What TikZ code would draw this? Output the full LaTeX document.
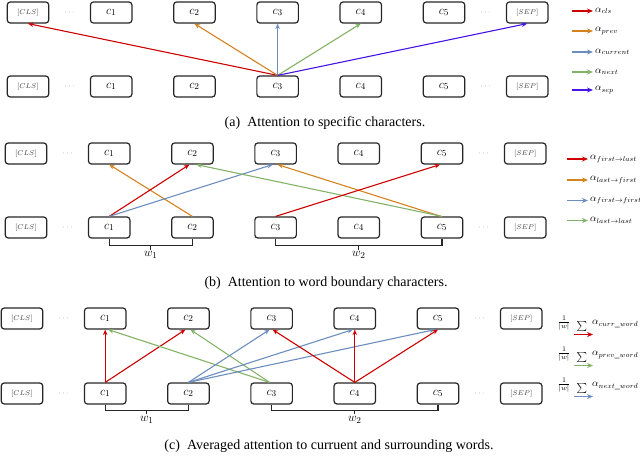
\documentclass[tikz,border=0pt]{standalone}
\usepackage{fontspec}
\setmainfont{Liberation Serif}
\usetikzlibrary{arrows.meta,calc}
\definecolor{cred}{RGB}{204,0,0}
\definecolor{corange}{RGB}{212,130,30}
\definecolor{cblue}{RGB}{108,142,191}
\definecolor{cgreen}{RGB}{130,179,102}
\definecolor{cviolet}{RGB}{70,20,230}
\tikzset{
 tok/.style={draw=black!85, line width=1.2pt, rounded corners=3pt, minimum width=41.5pt, minimum height=21pt, inner sep=0pt, font=\fontsize{13}{13}\selectfont},
 spec/.style={tok, font=\fontsize{7}{7}\selectfont, text=black!75},
 dotsn/.style={font=\fontsize{8}{8}\selectfont, text=black!50, inner sep=0pt},
 att/.style={line width=1.1pt, -{Stealth[length=5.5pt,width=4.5pt]}},
 legarr/.style={line width=1.4pt, -{Stealth[length=6pt,width=5pt]}},
 brk/.style={line width=1.1pt, draw=black!85},
 captxt/.style={font=\fontsize{14}{14}\selectfont, inner sep=0pt},
 leg/.style={font=\fontsize{10}{10}\selectfont, anchor=west, inner sep=0pt},
 wlab/.style={font=\fontsize{12.5}{12.5}\selectfont, inner sep=0pt, anchor=north},
}
\newcommand\mkrow[3]{%
 \node[spec] (#1cls) at (#2,#3) {$[CLS]$};
 \node[dotsn] (#1d1) at ({#2+0.5*83.2},#3) {$\cdots$};
 \foreach \i in {1,...,5} { \node[tok] (#1c\i) at ({#2+\i*83.2},#3) {$c_{\i}$}; }
 \node[dotsn] (#1d2) at ({#2+5.5*83.2},#3) {$\cdots$};
 \node[spec] (#1sep) at ({#2+6*83.2},#3) {$[SEP]$};
}
\begin{document}
\begin{tikzpicture}[x=1pt,y=-1pt]
\useasboundingbox (0,0) rectangle (640,457);
% ---------- panel (a)
\mkrow{at}{28}{12.5}
\mkrow{ab}{28}{86.5}
\draw[att,cred] (abc3.north) -- (atcls.south);
\draw[att,corange] (abc3.north) -- (atc2.south);
\draw[att,cblue] (abc3.north) -- (atc3.south);
\draw[att,cgreen] (abc3.north) -- (atc4.south);
\draw[att,cviolet] (abc3.north) -- (atsep.south);
\foreach \n/\yy/\col/\lab in {1/11/cred/cls, 2/31/corange/prev, 3/52/cblue/current, 4/72/cgreen/next, 5/90/cviolet/sep}{
 \coordinate (las\n) at (572,\yy);
 \coordinate (lae\n) at (593,\yy);
 \draw[legarr,\col] (las\n) -- (lae\n);
 \node[leg] (lat\n) at (595,\yy) {$\alpha_{\lab}$};
}
\node[captxt] (capa) at (325,123) {(a)\enspace Attention to specific characters.};
% ---------- panel (b)
\mkrow{bt}{26}{153.5}
\mkrow{bb}{26}{227.5}
\draw[att,corange] (bbc2.north) -- (btc1.south);
\draw[att,cred] (bbc1.north) -- ([xshift=-3pt]btc2.south);
\draw[att,cblue] (bbc1.north) -- ([xshift=-3pt]btc3.south);
\draw[att,corange] ([xshift=-1pt]bbc5.north) -- ([xshift=2pt]btc3.south);
\draw[att,cgreen] (bbc5.north) -- ([xshift=4pt]btc2.south);
\draw[att,cred] (bbc3.north) -- ([xshift=-2pt]btc5.south);
\foreach \n/\yy/\col/\lab in {1/159/cred/{first\rightarrow last}, 2/180/corange/{last\rightarrow first}, 3/200.5/cblue/{first\rightarrow first}, 4/220.5/cgreen/{last\rightarrow last}}{
 \coordinate (lbs\n) at (567,\yy);
 \coordinate (lbe\n) at (588,\yy);
 \draw[legarr,\col] (lbs\n) -- (lbe\n);
 \node[leg] (lbt\n) at (590,\yy) {$\alpha_{\lab}$};
}
\draw[brk] (bbc1.south) -- ++(0,7) -| (bbc2.south);
\draw[brk] (bbc3.south) -- ++(0,7) -| (bbc5.south);
\coordinate (bm1) at ($(bbc1.south)!0.5!(bbc2.south)+(0,7)$);
\coordinate (bm2) at ($(bbc3.south)!0.5!(bbc5.south)+(0,7)$);
\draw[brk] (bm1) -- ++(0,4);
\draw[brk] (bm2) -- ++(0,4);
\node[wlab] (bw1) at ($(bm1)+(0,6)$) {$w_1$};
\node[wlab] (bw2) at ($(bm2)+(0,6)$) {$w_2$};
\node[captxt] (capb) at (326,283) {(b)\enspace Attention to word boundary characters.};
% ---------- panel (c)
\mkrow{ct}{22}{318.5}
\mkrow{cb}{22}{393.5}
\draw[att,cred] (cbc1.north) -- (ctc1.south);
\draw[att,cred] (cbc1.north) -- ([xshift=-3pt]ctc2.south);
\draw[att,cgreen] ([xshift=-2pt]cbc3.north) -- ([xshift=3pt]ctc1.south);
\draw[att,cgreen] ([xshift=-2pt]cbc3.north) -- ([xshift=2pt]ctc2.south);
\draw[att,cblue] (cbc2.north) -- ([xshift=-2pt]ctc3.south);
\draw[att,cblue] (cbc2.north) -- ([xshift=-2pt]ctc4.south);
\draw[att,cblue] (cbc2.north) -- ([xshift=-3pt]ctc5.south);
\draw[att,cred] (cbc4.north) -- ([xshift=1pt]ctc3.south);
\draw[att,cred] (cbc4.north) -- (ctc4.south);
\draw[att,cred] (cbc4.north) -- (ctc5.south);
\foreach \n/\yy/\col/\lab in {1/326/cred/{curr\_word}, 2/357/cgreen/{prev\_word}, 3/388/cblue/{next\_word}}{
 \node[inner sep=0pt, font=\fontsize{10.5}{10.5}\selectfont] (lcf\n) at (564,\yy-3) {$\frac{1}{|w|}$};
 \node[inner sep=0pt, font=\fontsize{14}{14}\selectfont] (lcs\n) at (582,\yy) {$\sum$};
 \node[leg] (lct\n) at (592,\yy-2) {$\alpha_{\lab}$};
 \coordinate (lca\n) at (574,\yy+8.5);
 \coordinate (lcb\n) at (593,\yy+8.5);
 \draw[legarr,\col] (lca\n) -- (lcb\n);
}
\draw[brk] (cbc1.south) -- ++(0,5.5) -| (cbc2.south);
\draw[brk] (cbc3.south) -- ++(0,5.5) -| (cbc5.south);
\coordinate (cm1) at ($(cbc1.south)!0.5!(cbc2.south)+(0,5.5)$);
\coordinate (cm2) at ($(cbc3.south)!0.5!(cbc5.south)+(0,5.5)$);
\draw[brk] (cm1) -- ++(0,4);
\draw[brk] (cm2) -- ++(0,4);
\node[wlab] (cw1) at ($(cm1)+(0,6)$) {$w_1$};
\node[wlab] (cw2) at ($(cm2)+(0,6)$) {$w_2$};
\node[captxt] (capc) at (329,446) {(c)\enspace Averaged attention to curruent and surrounding words.};
\end{tikzpicture}
\end{document}
